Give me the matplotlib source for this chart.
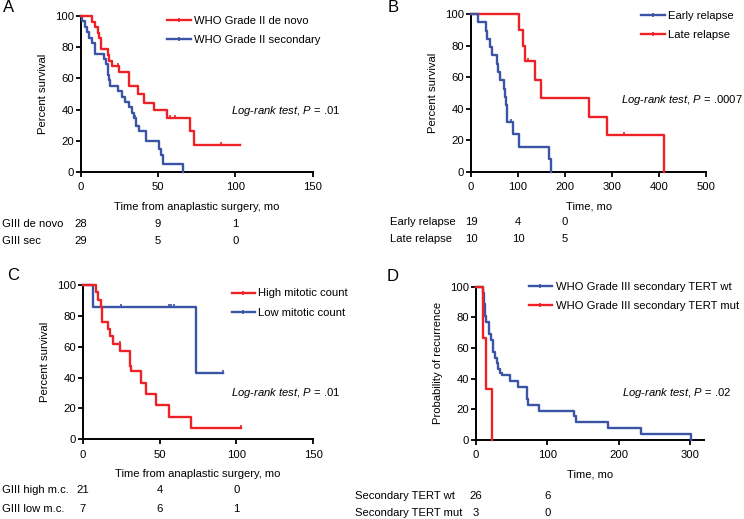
import numpy as np
import matplotlib
matplotlib.use("Agg")
import matplotlib.pyplot as plt
from matplotlib.transforms import blended_transform_factory
from matplotlib.lines import Line2D

plt.rcParams['font.family'] = ['Liberation Sans', 'DejaVu Sans']
plt.rcParams['mathtext.fontset'] = 'custom'
plt.rcParams['mathtext.it'] = 'Liberation Sans:italic'
plt.rcParams['mathtext.rm'] = 'Liberation Sans'

RED = '#EC2227'
BLUE = '#3B54A5'
FS = 8.1

# ---------------- Panel A data ----------------
a_denovo_t = [0, 7, 9, 11, 12, 13, 17.5, 18.5, 20, 25, 31, 37, 41, 47.5, 55.5, 70.5, 73, 103]
a_denovo_s = [100, 96.4, 92.9, 89.3, 85.7, 78.6, 75.0, 71.4, 67.9, 64.3, 55.0, 50.0, 44.4, 40.0, 34.7, 26.0, 17.4, 17.4]
a_denovo_cens = [24, 57.5, 61, 91]
a_sec_t = [0, 1, 2.5, 4, 5.5, 7, 9, 15, 16.5, 17.5, 18, 19, 24, 26.5, 28.5, 31, 33, 34.5, 36, 38, 42, 50.5, 52, 53.5, 66]
a_sec_s = [100, 96.6, 93.1, 89.7, 86.2, 82.8, 75.9, 72.4, 69.0, 62.0, 59.0, 55.2, 51.7, 48.3, 44.8, 41.4, 38.0, 34.5, 29.5, 26.0, 20.0, 15.0, 11.0, 5.0, 0]
a_sec_cens = [35]
a_risk_times = [0, 50, 100]
a_risk_denovo = [28, 9, 1]
a_risk_sec = [29, 5, 0]

# ---------------- Panel B data ----------------
b_early_t = [0, 14, 31, 34, 40, 44, 54.5, 58, 61.5, 70, 72, 74, 76, 90, 103, 166, 171]
b_early_s = [100, 94.7, 89.5, 84.2, 78.9, 73.7, 68.4, 63.2, 57.9, 52.6, 47.4, 42.1, 31.6, 23.7, 15.8, 7.9, 0]
b_early_cens = [84]
b_late_t = [0, 102, 111, 115, 137, 149, 251, 288, 411]
b_late_s = [100, 90, 80, 70, 58.3, 46.7, 35.0, 23.3, 0]
b_late_cens = [122, 326]
b_risk_times = [0, 100, 200]
b_risk_early = [19, 4, 0]
b_risk_late = [10, 10, 5]

# ---------------- Panel C data ----------------
c_high_t = [0, 8.5, 10, 12, 12.7, 16.6, 17.5, 19.8, 24.1, 30.6, 31.3, 38.1, 41.4, 47.8, 56, 70.5, 103]
c_high_s = [100, 95.2, 90.5, 85.7, 76.2, 71.4, 66.7, 61.9, 57.1, 47.6, 44.0, 36.5, 29.3, 22.0, 14.7, 7.3, 7.3]
c_high_cens = [24, 103]
c_low_t = [0, 6.5, 74, 91]
c_low_s = [100, 85.7, 42.9, 42.9]
c_low_cens = [25, 56, 57.5, 59.5, 91]
c_risk_times = [0, 50, 100]
c_risk_high = [21, 4, 0]
c_risk_low = [7, 6, 1]

# ---------------- Panel D data ----------------
d_wt_t = [0, 9.5, 11, 12.5, 14, 17.8, 20.6, 23.4, 24.5, 26.6, 29, 30.5, 33.6, 36, 47.7, 58.4, 72, 73, 88.8, 138, 139.5, 185, 231, 302]
d_wt_s = [100, 96.2, 88.5, 80.8, 76.9, 69.2, 65.4, 61.5, 57.7, 53.8, 50.0, 46.2, 44.0, 42.3, 38.5, 34.6, 26.9, 23.1, 19.2, 15.4, 11.5, 7.7, 3.8, 0]
d_mut_t = [0, 10.3, 14, 22]
d_mut_s = [100, 66.7, 33.3, 0]
d_risk_times = [0, 100]
d_risk_wt = [26, 6]
d_risk_mut = [3, 0]

W, H = 744, 519
fig = plt.figure(figsize=(W / 100, H / 100), dpi=100)

def px_ax(l, t, r, b):
    return fig.add_axes([l / W, 1 - b / H, (r - l) / W, (b - t) / H])

def style(ax, xlim, xticks, ylabel, xlabel):
    ax.set_xlim(*xlim)
    ax.set_ylim(0, 100)
    ax.set_xticks(xticks)
    ax.set_yticks([0, 20, 40, 60, 80, 100])
    for s in ['top', 'right']:
        ax.spines[s].set_visible(False)
    for s in ['left', 'bottom']:
        ax.spines[s].set_linewidth(1.4)
    ax.tick_params(axis='both', direction='out', length=3.4, width=1.3, labelsize=FS)
    ax.tick_params(axis='x', pad=4)
    ax.tick_params(axis='y', pad=1.5)
    ax.set_ylabel(ylabel, fontsize=FS, labelpad=5)
    ax.set_xlabel(xlabel, fontsize=FS, labelpad=7)
    ax.patch.set_visible(False)

def km(ax, t, s, color, cens=None):
    ax.step(t, s, where='post', color=color, lw=1.7, clip_on=False, zorder=3)
    if cens:
        t_arr = np.asarray(t)
        s_arr = np.asarray(s)
        idx = np.searchsorted(t_arr, cens, side='right') - 1
        ax.plot(cens, s_arr[idx] + 0.8, ls='none', marker='|', ms=3.5, mew=1.2,
                color=color, clip_on=False, zorder=3)

def legend(ax, entries, x, y):
    handles = [Line2D([], [], color=c, lw=1.7, marker='|', ms=3.5, mew=1.2) for c, _ in entries]
    ax.legend(handles, [l for _, l in entries], loc='upper left',
              bbox_to_anchor=(x / W, 1 - y / H), bbox_transform=fig.transFigure,
              frameon=False, fontsize=FS, handlelength=2.1, handletextpad=0.3,
              labelspacing=0.8, borderpad=0, borderaxespad=0)

def logrank(ax, ptxt, x, y):
    fig.text(x / W, 1 - y / H, r'$Log$-$rank$ $test$, $P$ = ' + ptxt,
             ha='right', va='center', fontsize=FS)

def risk(ax, label_x, rows, times):
    tr = blended_transform_factory(ax.transData, fig.transFigure)
    for (lab, vals, y) in rows:
        fig.text(label_x / W, 1 - y / H, lab, ha='left', va='center', fontsize=FS)
        for tt, v in zip(times, vals):
            ax.text(tt, 1 - y / H, str(v), transform=tr, ha='center', va='center', fontsize=FS)

# ---------------- A ----------------
axA = px_ax(80.7, 16, 312.7, 172)
style(axA, (0, 150), [0, 50, 100, 150], 'Percent survival', 'Time from anaplastic surgery, mo')
km(axA, a_sec_t, a_sec_s, BLUE, a_sec_cens)
km(axA, a_denovo_t, a_denovo_s, RED, a_denovo_cens)
legend(axA, [(RED, 'WHO Grade II de novo'), (BLUE, 'WHO Grade II secondary')], 167, 16)
logrank(axA, '.01', 340, 111)
risk(axA, 1.5, [('GIII de novo', a_risk_denovo, 224), ('GIII sec', a_risk_sec, 240.5)], a_risk_times)
fig.text(9 / W, 1 - 8 / H, 'A', fontsize=12, ha='center', va='center')

# ---------------- B ----------------
axB = px_ax(471, 14, 706.3, 171.7)
style(axB, (0, 500), [0, 100, 200, 300, 400, 500], 'Percent survival', 'Time, mo')
km(axB, b_late_t, b_late_s, RED, b_late_cens)
km(axB, b_early_t, b_early_s, BLUE, b_early_cens)
legend(axB, [(BLUE, 'Early relapse'), (RED, 'Late relapse')], 641, 11)
logrank(axB, '.0007', 743, 100)
risk(axB, 390, [('Early relapse', b_risk_early, 222), ('Late relapse', b_risk_late, 239)], b_risk_times)
fig.text(393 / W, 1 - 8 / H, 'B', fontsize=12, ha='center', va='center')

# ---------------- C ----------------
axC = px_ax(82.7, 285, 313.3, 439.3)
style(axC, (0, 150), [0, 50, 100, 150], 'Percent survival', 'Time from anaplastic surgery, mo')
km(axC, c_low_t, c_low_s, BLUE, c_low_cens)
km(axC, c_high_t, c_high_s, RED, c_high_cens)
legend(axC, [(RED, 'High mitotic count'), (BLUE, 'Low mitotic count')], 231.5, 288.5)
logrank(axC, '.01', 340.5, 393)
risk(axC, 1.5, [('GIII high m.c.', c_risk_high, 490), ('GIII low m.c.', c_risk_low, 508.5)], c_risk_times)
fig.text(13 / W, 1 - 275 / H, 'C', fontsize=12, ha='center', va='center')

# ---------------- D ----------------
axD = px_ax(476, 286.7, 704.3, 440)
style(axD, (0, 320), [0, 100, 200, 300], 'Probability of recurrence', 'Time, mo')
km(axD, d_wt_t, d_wt_s, BLUE)
km(axD, d_mut_t, d_mut_s, RED)
legend(axD, [(BLUE, 'WHO Grade III secondary TERT wt'), (RED, 'WHO Grade III secondary TERT mut')], 528.5, 282)
logrank(axD, '.02', 731, 393)
risk(axD, 355, [('Secondary TERT wt', d_risk_wt, 496), ('Secondary TERT mut', d_risk_mut, 512.5)], d_risk_times)
fig.text(393 / W, 1 - 276.5 / H, 'D', fontsize=12, ha='center', va='center')

fig.savefig('out.png', dpi=100, facecolor='white')
